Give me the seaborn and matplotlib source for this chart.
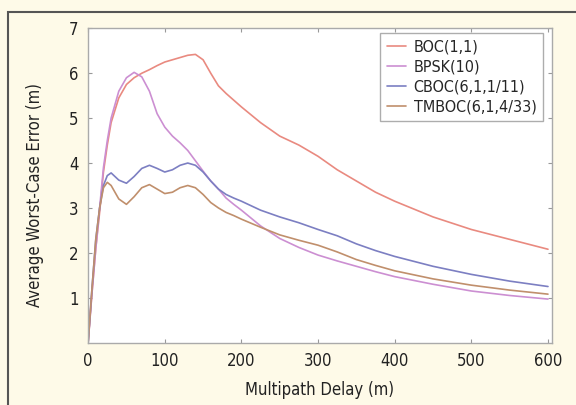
# Average worst-case multipath error vs. delay for four GNSS signals
import pandas as pd
import matplotlib.pyplot as plt
import seaborn as sns
from matplotlib.patches import Rectangle

delay = [0, 5, 10, 15, 20, 25, 30, 40, 50, 60, 70, 80, 90, 100, 110, 120, 130,
         140, 150, 160, 170, 180, 190, 200, 225, 250, 275, 300, 325, 350, 375,
         400, 450, 500, 550, 600]

boc = [0, 1.1, 2.1, 2.9, 3.8, 4.4, 4.9, 5.45, 5.75, 5.9, 6.0, 6.08, 6.17, 6.25,
       6.3, 6.35, 6.4, 6.42, 6.3, 6.0, 5.72, 5.55, 5.4, 5.25, 4.9, 4.6, 4.4,
       4.15, 3.85, 3.6, 3.35, 3.15, 2.8, 2.52, 2.3, 2.08]
bpsk = [0, 1.1, 2.1, 3.0, 3.9, 4.5, 5.0, 5.6, 5.9, 6.02, 5.92, 5.6, 5.1,
        4.8, 4.6, 4.45, 4.28, 4.05, 3.82, 3.6, 3.42, 3.22, 3.08, 2.95, 2.6,
        2.32, 2.12, 1.95, 1.82, 1.7, 1.58, 1.47, 1.3, 1.15, 1.05, 0.97]
cboc = [0, 1.2, 2.3, 3.0, 3.5, 3.72, 3.78, 3.62, 3.55, 3.7, 3.88, 3.95, 3.88,
        3.8, 3.85, 3.95, 4.0, 3.95, 3.8, 3.6, 3.42, 3.3, 3.22, 3.15, 2.95, 2.8,
        2.67, 2.52, 2.38, 2.2, 2.05, 1.92, 1.7, 1.52, 1.37, 1.25]
tmboc = [0, 1.2, 2.3, 3.0, 3.45, 3.57, 3.5, 3.2, 3.08, 3.25, 3.45, 3.52, 3.42,
         3.32, 3.35, 3.45, 3.5, 3.45, 3.3, 3.12, 3.0, 2.9, 2.83, 2.75, 2.57,
         2.4, 2.28, 2.17, 2.02, 1.85, 1.72, 1.6, 1.42, 1.28, 1.17, 1.08]

labels = ['BOC(1,1)', 'BPSK(10)', 'CBOC(6,1,1/11)', 'TMBOC(6,1,4/33)']
colors = ['#e98a80', '#cc8fd2', '#7c7fc2', '#c08f6c']

df = pd.concat([
    pd.DataFrame({'Delay': delay, 'Error': vals, 'Signal': name})
    for name, vals in zip(labels, [boc, bpsk, cboc, tmboc])
])

sns.set_style('ticks')
plt.rcParams['font.family'] = ['DejaVu Sans']
plt.rcParams['font.stretch'] = 'condensed'

fig = plt.figure(figsize=(5.76, 4.05), dpi=100, facecolor='#fefae8')
ax = fig.add_axes([0.153, 0.154, 0.805, 0.776])
ax.set_facecolor('white')

sns.lineplot(data=df, x='Delay', y='Error', hue='Signal', hue_order=labels,
             palette=colors, linewidth=1.2, ax=ax)

ax.set_xlim(0, 605)
ax.set_ylim(0, 7)
ax.set_xticks(range(0, 601, 100))
ax.set_yticks(range(1, 8))
ax.set_xlabel('Multipath Delay (m)', fontsize=12, color='#222', labelpad=8)
ax.set_ylabel('Average Worst-Case Error (m)', fontsize=12, color='#222',
              labelpad=18, y=0.47)
ax.tick_params(direction='in', length=3, width=0.8, color='#999',
               labelsize=12, labelcolor='#222', top=True, right=True)
ax.tick_params(axis='x', pad=7)
ax.tick_params(axis='y', pad=7)
for s in ax.spines.values():
    s.set_color('#aaa')
    s.set_linewidth(1)

leg = ax.legend(loc='upper right', bbox_to_anchor=(0.981, 0.984), fontsize=11.5,
                handlelength=1.2, frameon=True, fancybox=False, borderaxespad=0,
                borderpad=0.4, labelspacing=0.3, handletextpad=0.5)
leg.get_frame().set_edgecolor('#999')
leg.get_frame().set_linewidth(1)

# dark frame around the figure (only left/top edges visible)
fig.patches.append(Rectangle((0.014, -0.1), 1.2, 1.07, transform=fig.transFigure,
                             fill=False, edgecolor='#555', linewidth=1.5))

fig.savefig('out.png', dpi=100, facecolor=fig.get_facecolor())
